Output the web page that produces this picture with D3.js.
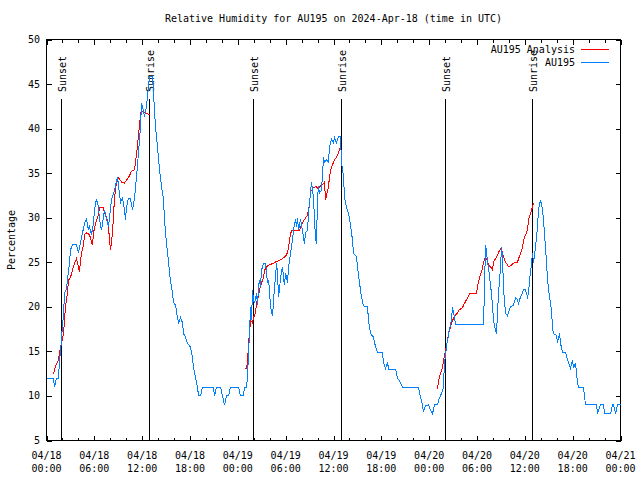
<!DOCTYPE html>
<html>
<head>
<meta charset="utf-8">
<script src="https://cdn.jsdelivr.net/npm/d3@7"></script>
<style>
  html, body { margin: 0; padding: 0; background: #fff; }
  svg { display: block; }
  text { font-family: "DejaVu Sans Mono", monospace; font-size: 10px; fill: #000; }
</style>
</head>
<body>
<svg id="chart" width="640" height="480"></svg>
<script>
// ---------------- DATA (hours after 2024-04-18 00:00 UTC) ----------------
const titleText = "Relative Humidity for AU195 on 2024-Apr-18 (time in UTC)";
const yLabelText = "Percentage";
const seriesNames = ["AU195 Analysis", "AU195"];
const yTicks = [5, 10, 15, 20, 25, 30, 35, 40, 45, 50];

const blueHours = [0.00,0.88,1.00,1.25,1.51,1.63,1.76,2.01,2.13,2.26,2.51,2.63,2.89,3.01,3.26,3.76,4.01,4.14,4.52,4.77,5.02,5.27,5.39,5.64,5.90,6.02,6.27,6.52,6.65,6.90,7.28,7.53,7.78,8.15,8.53,8.91,9.28,9.53,9.78,9.91,10.04,10.29,10.54,10.79,11.04,11.29,11.54,11.79,11.92,12.17,12.29,12.54,12.79,12.92,13.30,13.42,13.67,13.92,14.17,14.43,14.68,14.80,14.93,15.18,15.30,15.43,15.68,15.81,15.93,16.18,16.43,16.56,16.81,17.06,17.19,17.44,17.69,18.06,18.31,18.44,18.69,18.94,19.07,19.32,19.57,20.95,21.07,21.32,21.83,22.08,22.33,22.58,22.83,23.08,24.08,24.34,24.71,24.84,25.09,25.21,25.34,25.46,25.59,25.72,25.84,25.97,26.09,26.34,26.47,26.59,26.72,26.84,26.97,27.22,27.47,27.72,27.85,27.97,28.10,28.35,28.47,28.60,28.73,28.85,28.98,29.10,29.23,29.35,29.60,29.73,29.85,29.98,30.23,30.36,30.48,30.61,30.86,30.98,31.23,31.36,31.49,31.61,31.86,32.11,32.24,32.36,32.49,32.74,32.87,33.12,33.24,33.49,33.62,33.74,33.87,33.99,34.12,34.25,34.50,34.75,34.87,35.12,35.37,35.50,35.75,36.00,36.13,36.38,36.63,36.88,37.00,37.26,37.38,37.63,37.88,38.13,38.38,38.51,38.89,39.01,39.26,39.51,39.76,40.27,40.39,40.64,41.02,41.27,41.52,42.15,42.27,42.52,42.78,42.90,43.78,44.03,44.41,44.66,46.66,46.79,47.04,47.29,47.54,47.92,48.17,48.42,48.67,49.05,49.17,49.42,49.67,49.80,49.92,50.05,50.18,50.30,50.43,50.68,50.80,50.93,51.05,51.18,51.31,54.82,54.94,55.07,55.19,55.32,55.44,55.57,55.82,55.95,56.07,56.32,56.45,56.57,56.70,56.95,57.08,57.20,57.33,57.58,57.83,57.95,58.20,58.58,58.83,59.08,59.21,59.33,59.58,59.84,60.09,60.34,60.46,60.59,60.84,60.96,61.09,61.34,61.59,61.72,61.97,62.22,62.34,62.59,62.85,63.10,63.35,63.47,63.60,63.97,64.10,64.35,64.48,64.73,65.10,65.36,65.48,65.73,65.98,66.11,66.36,66.61,66.74,67.36,67.61,68.99,69.12,69.49,69.87,70.00,70.75,71.00,71.13,71.38,71.63,72.00];
const blueValues = [12,12,11,12,12,14,15,18,19,21.5,22,23,25,26.4,27,27,26,26.7,28.3,29.4,29.8,28.6,29,28.1,29.4,30.9,32.1,31.2,29.8,28.6,30.9,29.8,29,32,33.1,34.6,31.7,32.2,30.9,29.8,31.2,32.2,32.1,30.9,32.2,34.6,37.3,40.2,42.9,41.9,41.3,42.5,44.7,45.8,45.8,44,40.2,38,35.4,33.5,32,29.8,28.3,26,25.2,23.8,22.2,21.5,20.5,20.2,18.8,18.2,18.8,18.2,17,16.6,15.9,15.5,14.3,13.2,12.1,11,10,10,11,11,10,11,11,10,9,10,10,11,11,10,10,11,11,12,14.8,17,20,18.5,21.9,20.8,20.4,21.5,20.2,22.2,23,22.2,24.1,24.9,24.9,22.7,23,21.9,20,19,20.5,22.2,23.3,24.9,23.8,21.1,21.9,23.3,24.5,23.3,22.4,23.8,22.7,24.5,25.2,26,27.5,28.6,29.8,29,30,28.6,29.8,28.6,27.8,27.1,28.3,28.6,30.5,32.9,34,32.3,29.8,27.8,27.1,32.3,33.5,32.8,33.1,36.8,36.2,36.5,36.2,38,38.8,38.4,39,38.4,39.1,39.1,36.2,34.6,32.3,31.2,30.5,29.2,27.5,26,25.6,24.5,22.7,21.1,20.1,20,18.5,17,16.6,15.5,14.9,14.9,13.7,13.1,13.8,13,13,12,11.5,11,11,10.3,9.5,8.2,8.9,9,8.4,8,9,9,9.5,10,10.6,11,14,14.3,15.9,16,17,18,18.5,20,19.3,18.8,18,18,22.2,26.9,26.4,24.9,24.5,23.3,21.5,20,18.5,17.4,17,19.3,21.5,24.5,26.7,25.6,21.9,19.3,19,19.3,20,20.2,21,20.8,20.2,20.8,21.3,21.9,21.9,21.1,21.5,23,24.9,26,24.9,26.7,29,30.9,32,30.9,29.8,26.7,23,21.1,19.6,17.6,17,16.8,16,17,15.9,14.9,14.9,14,13.8,13.1,14,13.1,13.7,11.4,11,11,9,9,8,9,9,8,8,9,9,8,9,9];

// Analysis series: three daytime runs, separated by null gaps
const redHours = [0.88,1.13,1.51,1.63,1.88,2.13,2.26,2.38,2.63,2.76,3.01,3.26,3.51,3.76,4.01,4.14,4.27,4.39,4.64,4.77,5.02,5.39,5.77,5.90,6.15,6.52,6.65,7.15,7.28,7.53,7.78,7.90,8.03,8.28,8.40,8.53,8.78,9.03,9.41,9.78,10.29,10.66,11.04,11.16,11.42,11.54,11.67,11.79,12.04,12.17,12.54,13.05,
  null,
  24.84,25.09,25.21,25.34,25.46,25.59,25.84,25.97,26.22,26.34,26.59,26.72,26.97,27.22,27.35,27.72,27.97,28.47,28.85,29.23,29.73,30.11,30.36,30.48,30.73,31.11,31.74,31.99,32.36,32.74,32.87,32.99,33.12,33.49,33.87,34.12,34.25,34.62,34.87,35.00,35.37,35.50,35.75,36.00,36.13,36.38,36.63,36.75,36.88,
  null,
  49.05,49.17,49.42,49.67,49.80,50.05,50.30,50.43,50.68,50.80,51.05,51.31,51.56,51.68,52.19,52.31,52.81,53.07,53.57,53.94,54.07,54.32,54.69,54.82,55.07,55.32,55.44,55.70,55.95,56.07,56.32,56.57,56.70,56.95,57.20,57.33,57.58,57.83,57.95,58.20,58.58,59.08,59.21,59.46,59.71,59.84,60.09,60.34,60.46,60.71,60.96,61.09];
const redValues = [12.5,13.4,14,14.9,15.9,17,18.5,20,21.5,23,23.3,24.1,24.9,25.4,24.5,23.9,25.2,26,26.9,28.1,28.3,28.1,26.9,28.3,29.4,30.3,31.1,31.1,30.5,30.1,29,27.5,26.4,28.3,30.1,32.3,33.9,34.5,34,33.9,34.5,35.2,35.4,36.2,38,39.5,40.2,41.8,41.9,41.8,41.7,41.5,
  null,
  13.1,13.1,13.7,15.9,17,18.5,18.2,18.8,19.3,20.5,21.1,21.9,22.7,23.3,24.1,24.6,24.7,24.9,25.1,25.2,25.5,25.8,26.6,27.5,28.6,28.6,28.6,29.2,29.8,30.3,30.9,31.6,32.9,33.4,33.5,33.1,33.5,33.7,34,32,33.5,34.6,35.7,36.2,36.5,36.8,37.3,37.6,38,
  null,
  10.8,11.7,12.5,13.2,14,15.1,16.2,17,17.7,18.2,18.7,19.1,19.3,19.6,19.9,20.2,21,21.5,21.5,21.5,22.4,23.3,24.3,25,25.6,25.2,24.7,24.5,24.1,25,25.4,25.8,26.1,26.5,26.1,25.6,25,24.7,24.5,24.6,24.9,25,25.4,26,26.7,27.5,28.1,28.6,29.8,30.5,31.2,31.6];

const sunEventHours = [1.92, 12.96, 26.0, 37.0, 50.09, 61.0];
const sunEventLabels = ["Sunset", "Sunrise", "Sunset", "Sunrise", "Sunset", "Sunrise"];

// ---------------- CHART ----------------
const base = Date.UTC(2024, 3, 18, 0, 0);
const toDate = h => new Date(base + h * 3600e3);
const svg = d3.select("#chart");

const L = 46.5, R = 620.5, T = 39.5, B = 440.5;
const x = d3.scaleUtc().domain([toDate(0), toDate(72)]).range([L, R]);
const y = d3.scaleLinear().domain([5, 50]).range([B, T]);

const colRed = "#ff0000", colBlue = "#0080ff";

// Title
svg.append("text").attr("x", (L + R) / 2).attr("y", 22).attr("text-anchor", "middle").text(titleText);
// Y label
svg.append("text").attr("transform", "translate(15,240) rotate(-90)").attr("text-anchor", "middle").text(yLabelText);

// Frame
svg.append("rect").attr("x", L).attr("y", T).attr("width", R - L).attr("height", B - T)
  .attr("fill", "none").attr("stroke", "#000").attr("shape-rendering", "crispEdges");

const majorTicks = x.ticks(d3.utcHour.every(6));
const minorTicks = x.ticks(d3.utcHour.every(2)).filter(d => d.getUTCHours() % 6 !== 0);

function tickAxis(axisFn, scale, ticks, size, transform) {
  const g = svg.append("g").attr("transform", transform)
    .call(axisFn(scale).tickValues(ticks).tickSize(size).tickFormat(""));
  g.select(".domain").remove();
  g.selectAll("line").attr("stroke", "#000").attr("shape-rendering", "crispEdges");
  return g;
}
tickAxis(d3.axisBottom, x, majorTicks, -5, `translate(0,${B})`);
tickAxis(d3.axisBottom, x, minorTicks, -3, `translate(0,${B})`);
tickAxis(d3.axisTop, x, majorTicks, -5, `translate(0,${T})`);
tickAxis(d3.axisTop, x, minorTicks, -3, `translate(0,${T})`);
tickAxis(d3.axisLeft, y, yTicks, -5, `translate(${L},0)`);
tickAxis(d3.axisRight, y, yTicks, -5, `translate(${R},0)`);

// Y tick labels
svg.append("g").selectAll("text").data(yTicks).join("text")
  .attr("x", 40).attr("y", d => y(d)).attr("dy", "0.35em").attr("text-anchor", "end").text(d => d);

// X tick labels (two lines)
const fDay = d3.utcFormat("%m/%d"), fTime = d3.utcFormat("%H:%M");
const xl = svg.append("g").selectAll("g").data(majorTicks).join("g")
  .attr("transform", d => `translate(${x(d)},0)`);
xl.append("text").attr("y", 459).attr("text-anchor", "middle").text(d => fDay(d));
xl.append("text").attr("y", 472).attr("text-anchor", "middle").text(d => fTime(d));

// Sunset / Sunrise markers
const sun = svg.append("g");
sunEventHours.forEach((h, i) => {
  const px = Math.floor(x(toDate(h))) + 0.5;
  sun.append("line").attr("x1", px).attr("x2", px).attr("y1", 99).attr("y2", B)
    .attr("stroke", "#000").attr("shape-rendering", "crispEdges");
  sun.append("text").attr("transform", `translate(${px + 4.5},92) rotate(-90)`)
    .attr("text-anchor", "start").text(sunEventLabels[i]);
});

// Series
const line = d3.line().defined(d => d[1] != null).x(d => x(toDate(d[0]))).y(d => y(d[1]));
const redData = redHours.map((h, i) => [h, redValues[i]]);
const blueData = blueHours.map((h, i) => [h, blueValues[i]]);
svg.append("path").datum(redData).attr("d", line).attr("fill", "none")
  .attr("stroke", colRed).attr("stroke-width", 1).attr("shape-rendering", "crispEdges");
svg.append("path").datum(blueData).attr("d", line).attr("fill", "none")
  .attr("stroke", colBlue).attr("stroke-width", 1).attr("shape-rendering", "crispEdges");

// Legend
const legY = [49.5, 62.5], legCols = [colRed, colBlue];
seriesNames.forEach((name, i) => {
  svg.append("text").attr("x", 575).attr("y", legY[i]).attr("dy", "0.35em").attr("text-anchor", "end").text(name);
  svg.append("line").attr("x1", 581).attr("x2", 609).attr("y1", legY[i]).attr("y2", legY[i])
    .attr("stroke", legCols[i]).attr("shape-rendering", "crispEdges");
});
</script>
</body>
</html>
